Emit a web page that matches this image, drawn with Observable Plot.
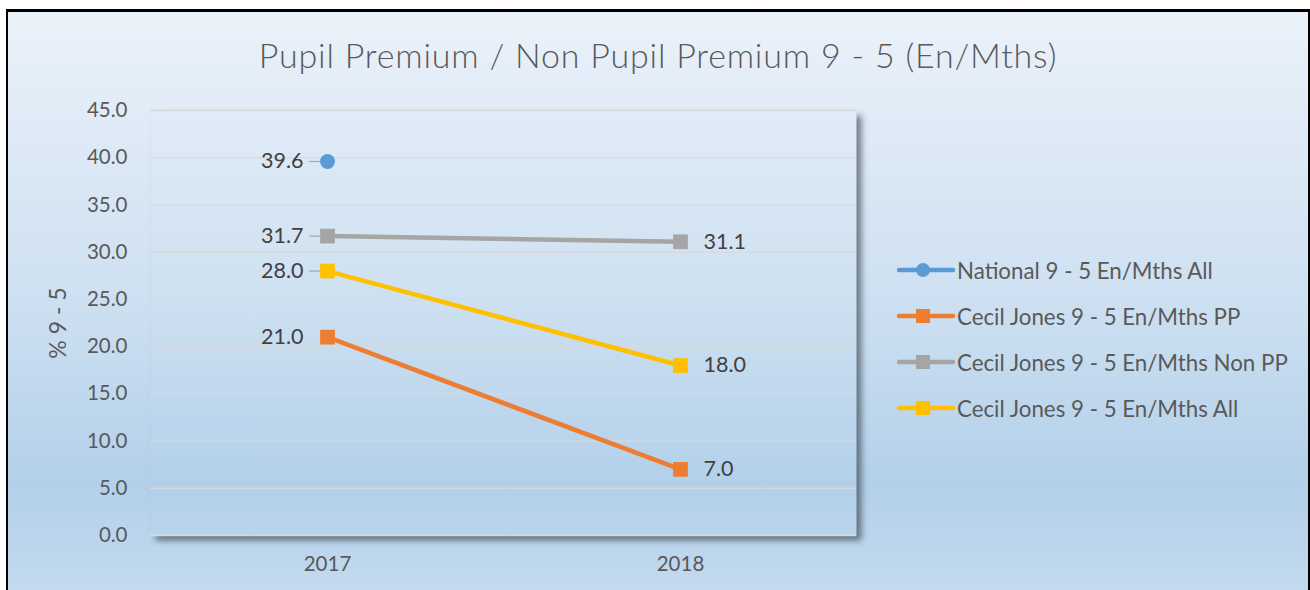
<!DOCTYPE html>
<html>
<head>
<meta charset="utf-8">
<script src="https://cdn.jsdelivr.net/npm/d3@7"></script>
<script src="https://cdn.jsdelivr.net/npm/@observablehq/plot@0.6"></script>
<style>
  html, body { margin: 0; padding: 0; background: #fff; }
  #wrap { position: relative; width: 1310px; height: 590px; overflow: hidden; background: #fff;
          font-family: Lato, "Open Sans", sans-serif; }
  #box { position: absolute; left: 6px; top: 9px; width: 1300px; height: 620px;
         border-style: solid; border-color: #000; border-width: 3px 2px 0 2px;
         background: linear-gradient(to bottom, #ebf2fa 0%, #dbe8f5 25%, #cde0f1 47%, #b3d0ea 76%, #c9ddf0 100%); }
  #chart { position: absolute; left: 0; top: 0; }
  #title { position: absolute; left: 0; width: 1316px; top: 33px; line-height: 44px; text-align: center;
           font-size: 34px; letter-spacing: 0.8px; font-weight: 300; color: #595959; white-space: nowrap; }
  #legend { position: absolute; left: 897px; top: 247px; }
  .row { display: flex; align-items: center; height: 46px; }
  .row span { font-size: 22.3px; color: #595959; white-space: nowrap; }
</style>
</head>
<body>
<svg width="0" height="0" style="position:absolute">
  <defs>
    <linearGradient id="bggrad" gradientUnits="userSpaceOnUse" x1="0" y1="12" x2="0" y2="632">
      <stop offset="0" stop-color="#ebf2fa"/>
      <stop offset="0.25" stop-color="#dbe8f5"/>
      <stop offset="0.47" stop-color="#cde0f1"/>
      <stop offset="0.76" stop-color="#b3d0ea"/>
      <stop offset="1" stop-color="#c9ddf0"/>
    </linearGradient>
  </defs>
</svg>
<div id="wrap">
  <div id="box"></div>
  <div id="chart"></div>
  <div id="title">Pupil Premium / Non Pupil Premium 9 - 5 (En/Mths)</div>
  <div id="legend"></div>
</div>
<script>
const years = ["2017", "2018"];
const seriesNames = [
  "National 9 - 5 En/Mths All",
  "Cecil Jones 9 - 5 En/Mths PP",
  "Cecil Jones 9 - 5 En/Mths Non PP",
  "Cecil Jones 9 - 5 En/Mths All"
];
const nationalAll = [39.6, null];
const cecilPP = [21.0, 7.0];
const cecilNonPP = [31.7, 31.1];
const cecilAll = [28.0, 18.0];
const seriesColors = ["#5b9bd5", "#ed7d31", "#a5a5a5", "#ffc000"];
const seriesSymbols = ["circle", "square", "square", "square"];
const yTicks = [0, 5, 10, 15, 20, 25, 30, 35, 40, 45];
const yLabel = "% 9 - 5";
const leaderSeries = [seriesNames[0], seriesNames[2], seriesNames[3]];

const valueSets = [nationalAll, cecilPP, cecilNonPP, cecilAll];
const rows = [];
seriesNames.forEach((s, i) => years.forEach((yr, j) => {
  const v = valueSets[i][j];
  if (v != null) rows.push({series: s, year: yr, value: v, symbol: seriesSymbols[i]});
}));

const chart = Plot.plot({
  width: 1310, height: 590,
  marginLeft: 150, marginRight: 454, marginTop: 110, marginBottom: 55,
  style: {background: "transparent", color: "#595959", fontFamily: "Lato, 'Open Sans', sans-serif", overflow: "visible"},
  x: {type: "point", domain: years, padding: 0.5, label: null},
  y: {domain: [0, 45], label: null},
  color: {domain: seriesNames, range: seriesColors},
  marks: [
    Plot.frame({fill: "url(#bggrad)"}),
    Plot.ruleY(yTicks, {stroke: "#d9d9d9", strokeWidth: 1.3}),
    Plot.axisY({ticks: yTicks, tickFormat: d => d.toFixed(1), tickSize: 0, tickPadding: 23, fontSize: 20.5, label: null}),
    Plot.axisX({tickSize: 0, tickPadding: 21, fontSize: 20.5, label: null}),
    Plot.text([yLabel], {frameAnchor: "left", textAnchor: "middle", rotate: -90, dx: -92, fontSize: 23, fill: "#595959"}),
    Plot.line(rows, {x: "year", y: "value", z: "series", stroke: "series", strokeWidth: 4.5}),
    Plot.ruleY(rows.filter(d => d.year === years[0] && leaderSeries.includes(d.series)),
      {y: "value", x1: "year", x2: "year", insetLeft: -18, insetRight: 5, stroke: "#a6a6a6", strokeWidth: 1.2}),
    Plot.dot(rows.filter(d => d.symbol === "circle"), {x: "year", y: "value", fill: "series", r: 7.5, symbol: "circle"}),
    Plot.dot(rows.filter(d => d.symbol === "square"), {x: "year", y: "value", fill: "series", r: 8.3, symbol: "square"}),
    Plot.text(rows.filter(d => d.year === years[0]), {x: "year", y: "value", text: d => d.value.toFixed(1),
      textAnchor: "end", dx: -24, fontSize: 21.5, fill: "#404040"}),
    Plot.text(rows.filter(d => d.year === years[1]), {x: "year", y: "value", text: d => d.value.toFixed(1),
      textAnchor: "start", dx: 23, fontSize: 21.5, fill: "#404040"})
  ]
});
const frameEl = chart.querySelector('[aria-label="frame"]');
if (frameEl) frameEl.style.filter = "drop-shadow(5px 5px 3px rgba(40,50,60,0.6))";
document.getElementById("chart").appendChild(chart);

const legend = d3.select("#legend");
seriesNames.forEach((s, i) => {
  const row = legend.append("div").attr("class", "row");
  const sw = row.append("svg").attr("width", 60).attr("height", 20);
  sw.append("line").attr("x1", 2).attr("x2", 56).attr("y1", 10).attr("y2", 10)
    .attr("stroke", seriesColors[i]).attr("stroke-width", 4.5).attr("stroke-linecap", "round");
  if (seriesSymbols[i] === "circle") sw.append("circle").attr("cx", 26).attr("cy", 10).attr("r", 7).attr("fill", seriesColors[i]);
  else sw.append("rect").attr("x", 19).attr("y", 3).attr("width", 14).attr("height", 14).attr("fill", seriesColors[i]);
  row.append("span").text(s);
});
</script>
</body>
</html>
